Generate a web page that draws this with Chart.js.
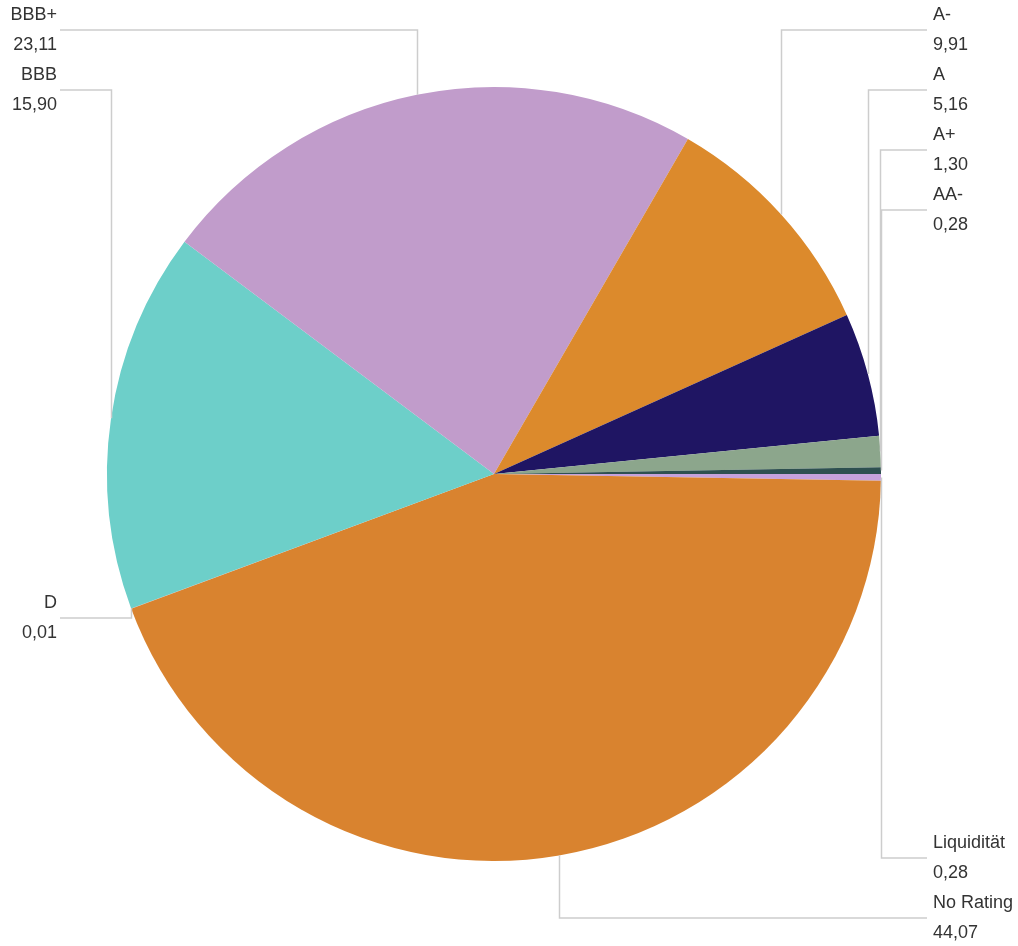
<!DOCTYPE html>
<html>
<head>
<meta charset="utf-8">
<script src="https://cdn.jsdelivr.net/npm/chart.js@4"></script>
<style>
    html, body { margin: 0; padding: 0; background: #fff; }
    #wrap { width: 1018px; height: 946px; }
</style>
</head>
<body>
<div id="wrap"><canvas id="ratingChart" width="1018" height="946"></canvas></div>
<script>
// Rating distribution (%), clockwise from 3 o'clock
const ratings = ['Liquidität', 'No Rating', 'D', 'BBB', 'BBB+', 'A-', 'A', 'A+', 'AA-'];
const shares = [0.28, 44.07, 0.01, 15.90, 23.11, 9.91, 5.16, 1.30, 0.28];
const sliceColors = ['#c6a2dc', '#d9832f', '#e07a5a', '#6dcfc9', '#c19ccb', '#dc8a2c', '#1f1563', '#8ca68c', '#2e5050'];

// row (y of the leader line) for each label, same order as ratings
const labelRows = [858, 918, 618, 90, 30, 30, 90, 150, 210];

const leaderLabels = {
    id: 'leaderLabels',
    afterDatasetsDraw(chart) {
        const ctx = chart.ctx;
        const meta = chart.getDatasetMeta(0);
        ctx.save();
        ctx.font = '18px "Liberation Sans", Arial, sans-serif';
        ctx.fillStyle = '#333';
        ctx.textBaseline = 'middle';
        meta.data.forEach((arc, i) => {
            const mid = (arc.startAngle + arc.endAngle) / 2;
            const ex = arc.x + Math.cos(mid) * arc.outerRadius;
            const ey = arc.y + Math.sin(mid) * arc.outerRadius;
            const rowY = labelRows[i];
            const right = ex > arc.x;
            const lineEnd = right ? 927 : 60;
            const textX = right ? 933 : 57;

            ctx.strokeStyle = '#cdcdcd';
            ctx.lineWidth = 1.5;
            ctx.beginPath();
            ctx.moveTo(Math.round(ex) + 0.5, ey);
            ctx.lineTo(Math.round(ex) + 0.5, rowY);
            ctx.lineTo(lineEnd, rowY);
            ctx.stroke();

            ctx.textAlign = right ? 'left' : 'right';
            ctx.fillText(ratings[i], textX, rowY - 15);
            ctx.fillText(shares[i].toFixed(2).replace('.', ','), textX, rowY + 15);
        });
        ctx.restore();
    }
};

new Chart(document.getElementById('ratingChart').getContext('2d'), {
    type: 'pie',
    data: {
        labels: ratings,
        datasets: [{
            data: shares,
            backgroundColor: sliceColors,
            borderWidth: 0
        }]
    },
    options: {
        responsive: false,
        animation: false,
        rotation: 90,
        layout: {
            padding: { top: 87, bottom: 85, left: 107, right: 137 }
        },
        plugins: {
            legend: { display: false },
            tooltip: { enabled: false }
        }
    },
    plugins: [leaderLabels]
});
</script>
</body>
</html>
